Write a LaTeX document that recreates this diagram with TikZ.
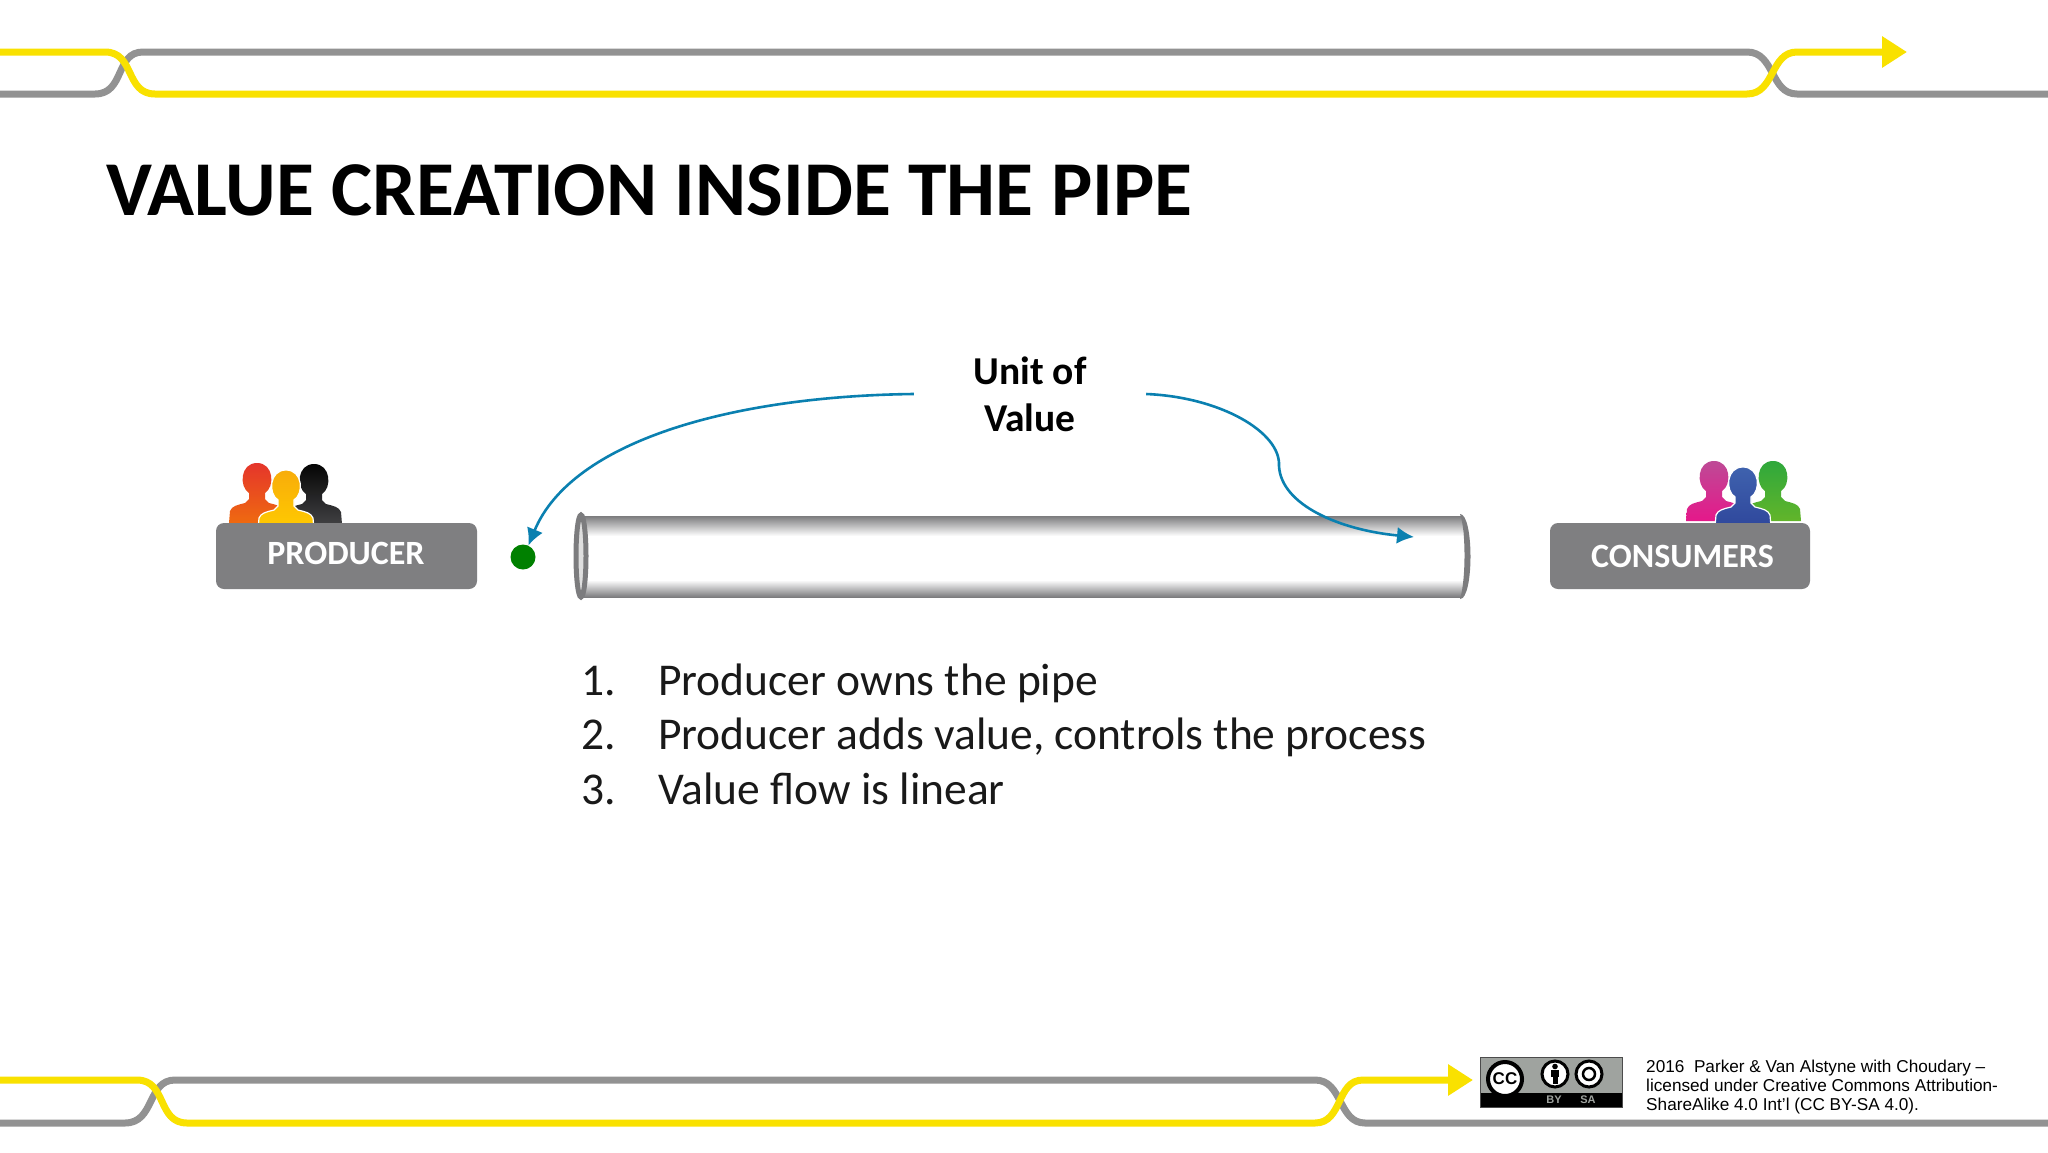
\documentclass[tikz,border=0pt]{standalone}
\usepackage{fontspec}
\setmainfont{Carlito}
\newfontfamily\notefont{Liberation Sans}
\usetikzlibrary{positioning}
\usetikzlibrary{arrows.meta}
\definecolor{railyellow}{HTML}{F9E100}
\definecolor{railgrey}{HTML}{929292}
\definecolor{boxgrey}{HTML}{7F7F81}
\definecolor{pipegrey}{HTML}{7C7C7E}
\definecolor{flowblue}{HTML}{0A80B0}
\definecolor{dotgreen}{HTML}{008000}
\definecolor{ccgrey}{HTML}{9FA39F}
\definecolor{redtop}{HTML}{E5352B}
\definecolor{redlow}{HTML}{EF6A10}
\definecolor{ambertop}{HTML}{F8AC0A}
\definecolor{amberlow}{HTML}{FFCB00}
\definecolor{inktop}{HTML}{050505}
\definecolor{inklow}{HTML}{404042}
\definecolor{pinktop}{HTML}{BE4A96}
\definecolor{pinklow}{HTML}{E5188A}
\definecolor{bluetop}{HTML}{3F62AE}
\definecolor{bluelow}{HTML}{2F479C}
\definecolor{greentop}{HTML}{2FA83C}
\definecolor{greenlow}{HTML}{62B52A}
\tikzset{
        % Rails at top and bottom
        rail_grey/.style={draw=railgrey, line width=7pt},
        rail_yellow/.style={draw=railyellow, line width=7pt},
        rail_tip/.style={-{Triangle[length=25pt,width=30pt]}},
        % Grey boxes
        node_role/.style={rectangle, rounded corners=8pt, fill=boxgrey, minimum height=66pt, inner sep=0pt},
        role_label/.style={inner sep=0pt, text=white, font=\fontsize{34}{34}\selectfont\bfseries},
        % Blue curves
        flow/.style={draw=flowblue, line width=2.6pt, -{Latex[length=17pt,width=17pt]}},
        % Numbered lines
        node_list/.style={anchor=base west, inner sep=0pt, font=\fontsize{45.5}{45.5}\selectfont, text=black!90},
        % People icons
        person/.pic={
            \path[pic actions] (-28,0) -- (-27,-12) .. controls (-25,-17) and (-20,-18) .. (-12,-20)
              -- (-8,-24) -- (-8,-30) .. controls (-18,-36) and (-17,-60) .. (0,-60)
              .. controls (17,-60) and (18,-36) .. (8,-30) -- (8,-24) -- (12,-20)
              .. controls (20,-18) and (25,-17) .. (27,-12) -- (28,0) -- cycle;
        },
        cc_ring/.style={circle, draw=black, fill=white, line width=3pt, inner sep=0pt, minimum size=26pt},
        cc_label/.style={text=ccgrey, inner sep=0pt, font=\notefont\fontsize{11}{11}\selectfont\bfseries}
}
\begin{document}
\begin{tikzpicture}[x=1pt, y=-1pt]
    \useasboundingbox (0,0) rectangle (2048,1152);
    \fill[white] (0,0) rectangle (2048,1152);
    % top rail
    \coordinate (top_tip) at (1907,52);
    \draw[rail_grey] (0,94) -- (95,94) .. controls (125,94) and (115,52) .. (143,52) -- (1747,52) .. controls (1775,52) and (1770,94) .. (1797,94) -- (2048,94);
    \draw[rail_yellow, rail_tip] (0,52) -- (105,52) .. controls (135,52) and (125,94) .. (155,94) -- (1747,94) .. controls (1775,94) and (1770,52) .. (1797,52) -- (top_tip);
    % bottom rail
    \coordinate (bottom_tip) at (1473,1080);
    \draw[rail_grey] (0,1123) -- (125,1123) .. controls (155,1123) and (147,1080) .. (175,1080) -- (1315,1080) .. controls (1343,1080) and (1338,1123) .. (1365,1123) -- (2048,1123);
    \draw[rail_yellow, rail_tip] (0,1080) -- (137,1080) .. controls (167,1080) and (157,1123) .. (187,1123) -- (1315,1123) .. controls (1343,1123) and (1336,1080) .. (1363,1080) -- (bottom_tip);
    % title
    \node[anchor=base west, inner sep=0pt, font=\fontsize{77.6}{78}\selectfont\bfseries] (title) at (106,215) {VALUE CREATION INSIDE THE PIPE};
    % people
    \pic[top color=redtop, bottom color=redlow] at (257,523) {person};
    \pic[top color=inktop, bottom color=inklow] at (314,524) {person};
    \pic[top color=ambertop, bottom color=amberlow, draw=white, line width=1.2pt] at (286,530) {person};
    \pic[top color=pinktop, bottom color=pinklow] at (1714,521) {person};
    \pic[top color=greentop, bottom color=greenlow] at (1773,521) {person};
    \pic[top color=bluetop, bottom color=bluelow, draw=white, line width=1.2pt] at (1743,527) {person};
    % boxes
    \node[node_role, minimum width=261pt] (producer) at (346.5,556) {};
    \node[role_label] (producer_label) at (346,553) {PRODUCER};
    \node[node_role, minimum width=260pt] (consumers) at (1680,556) {};
    \node[role_label] (consumers_label) at (1682.5,556) {CONSUMERS};
    % pipe
    \shade[top color=pipegrey, bottom color=white] (581,516) rectangle (1463,536);
    \shade[top color=white, bottom color=pipegrey] (581,580) rectangle (1463,597);
    \fill[pipegrey] (1460,514) .. controls (1474,514) and (1474,599) .. (1460,599) .. controls (1466,580) and (1466,530) .. (1460,514);
    \draw[pipegrey, line width=5pt, fill=white!75!gray] (581,556) ellipse (5pt and 41pt);
    % dot and label
    \node[circle, fill=dotgreen, minimum size=25pt, inner sep=0pt] (dot) at (523,557) {};
    \node[minimum width=232pt, align=center, inner sep=0pt, font=\fontsize{39.5}{47}\selectfont\bfseries] (unit) at (1030,394) {Unit of\\Value};
    % flows
    \coordinate (flow_end) at (1414,537);
    \draw[flow] (unit.west) .. controls (735,396) and (572,440) .. (dot.65);
    \draw[flow] (unit.east) .. controls (1220,397) and (1281,432) .. (1279,466) .. controls (1281,505) and (1340,530) .. (flow_end);
    % list
    \node[node_list] (num_one) at (581,695) {1.};
    \node[node_list] (item_one) at (658,695) {Producer owns the pipe};
    \node[node_list] (num_two) at (581,749) {2.};
    \node[node_list] (item_two) at (658,749) {Producer adds value, controls the process};
    \node[node_list] (num_three) at (581,804) {3.};
    \node[node_list] (item_three) at (658,804) {Value flow is linear};
    % licence badge
    \fill[ccgrey] (1480,1057) rectangle (1622,1107);
    \fill[black] (1480,1093) rectangle (1622,1107);
    \draw[black!70, line width=0.8pt] (1480,1057) rectangle (1622,1107);
    \node[circle, draw=black, fill=white, line width=4pt, inner sep=0pt, minimum size=34pt, font=\notefont\fontsize{17}{17}\selectfont\bfseries] (cc) at (1505,1079) {CC};
    \node[cc_ring] (by) at (1555,1074) {};
    \node[cc_ring] (sa) at (1589,1074) {};
    \fill[black] (1555,1066.5) circle (2.8pt);
    \fill[black] (1551,1070) rectangle (1559,1077);
    \fill[black] (1552.5,1077) rectangle (1557.5,1084);
    \draw[black, line width=2.5pt] (1589,1074) circle (6pt);
    \node[cc_label] (by_label) at (1554,1100) {BY};
    \node[cc_label] (sa_label) at (1588,1100) {SA};
    % credit
    \node[anchor=north west, inner sep=0pt, align=left, font=\notefont\fontsize{17.2}{18.8}\selectfont] (credit) at (1646,1060) {2016\ \ Parker \& Van Alstyne with Choudary –\\licensed under Creative Commons Attribution-\\ShareAlike 4.0 Int’l (CC BY-SA 4.0).};
\end{tikzpicture}
\end{document}
